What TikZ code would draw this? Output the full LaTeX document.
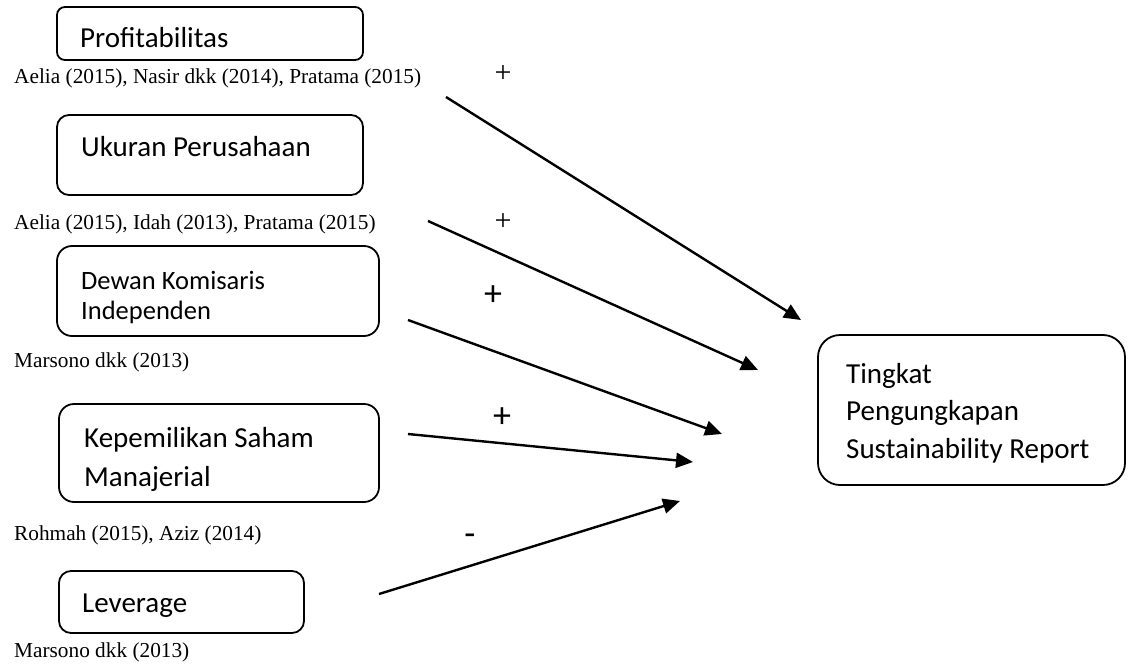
\documentclass[tikz,border=0pt]{standalone}
\usepackage{fontspec}
\setmainfont{Liberation Serif}
\newfontfamily\calib{Carlito}
\usetikzlibrary{arrows.meta}
\tikzset{
  box/.style={draw, line width=1.8pt, anchor=north west, inner sep=0pt, outer sep=0pt},
  lab/.style={font=\calib\fontsize{29}{35}\selectfont, anchor=base west, inner sep=0pt},
  labs/.style={font=\calib\fontsize{26.5}{32}\selectfont, anchor=base west, inner sep=0pt},
  citetxt/.style={font=\fontsize{21.3}{25}\selectfont, anchor=base west, inner sep=0pt},
  conn/.style={line width=2.4pt, -{Triangle[length=17pt,width=15pt]}},
  sgnt/.style={font=\fontsize{30}{30}\selectfont, inner sep=0pt},
  sgnc/.style={font=\calib\fontsize{36}{36}\selectfont, inner sep=0pt},
}
\begin{document}
\begin{tikzpicture}[x=1pt,y=-1pt]
\useasboundingbox (0,0) rectangle (1132,669);
% boxes
\node[box, rounded corners=8pt, minimum width=306pt, minimum height=53pt] (b1) at (57,7) {};
\node[box, rounded corners=12pt, minimum width=306pt, minimum height=80pt] (b2) at (57,115) {};
\node[box, rounded corners=15pt, minimum width=322pt, minimum height=90pt] (b3) at (57,246) {};
\node[box, rounded corners=15pt, minimum width=320pt, minimum height=98pt] (b4) at (59,404) {};
\node[box, rounded corners=12pt, minimum width=245pt, minimum height=62pt] (b5) at (59,571) {};
\node[box, rounded corners=22pt, minimum width=307pt, minimum height=150pt] (b6) at (818,335) {};
% box labels
\node[lab] (t1) at (80,48) {Profitabilitas};
\node[lab] (t2) at (81,156) {Ukuran Perusahaan};
\node[labs] (t3a) at (81,289) {Dewan Komisaris};
\node[labs] (t3b) at (81,319) {Independen};
\node[lab] (t4a) at (84,447) {Kepemilikan Saham};
\node[lab] (t4b) at (84,486) {Manajerial};
\node[lab] (t5) at (82,612) {Leverage};
\node[lab] (t6a) at (846,383) {Tingkat};
\node[lab] (t6b) at (846,420) {Pengungkapan};
\node[lab] (t6c) at (846,458) {Sustainability Report};
% citations
\node[citetxt] (c1) at (14,84) {Aelia (2015), Nasir dkk (2014), Pratama (2015)};
\node[citetxt] (c2) at (14,229) {Aelia (2015), Idah (2013), Pratama (2015)};
\node[citetxt] (c3) at (14,367) {Marsono dkk (2013)};
\node[citetxt] (c4) at (14,540) {Rohmah (2015), Aziz (2014)};
\node[citetxt] (c5) at (14,657) {Marsono dkk (2013)};
% signs
\node[sgnt] (s1) at (503,74) {+};
\node[sgnt] (s2) at (503,222) {+};
\node[sgnc] (s3) at (493,296) {+};
\node[sgnc] (s4) at (502,418) {+};
\node[sgnc] (s5) at (470,540) {-};
% arrow ends
\coordinate (a1s) at (446,97);   \coordinate (a1e) at (801,320);
\coordinate (a2s) at (428,221);  \coordinate (a2e) at (758,370);
\coordinate (a3s) at (408,320);  \coordinate (a3e) at (722,434);
\coordinate (a4s) at (408,434);  \coordinate (a4e) at (693,462);
\coordinate (a5s) at (379,594);  \coordinate (a5e) at (680,501);
\draw[conn] (a1s) -- (a1e);
\draw[conn] (a2s) -- (a2e);
\draw[conn] (a3s) -- (a3e);
\draw[conn] (a4s) -- (a4e);
\draw[conn] (a5s) -- (a5e);
\end{tikzpicture}
\end{document}
